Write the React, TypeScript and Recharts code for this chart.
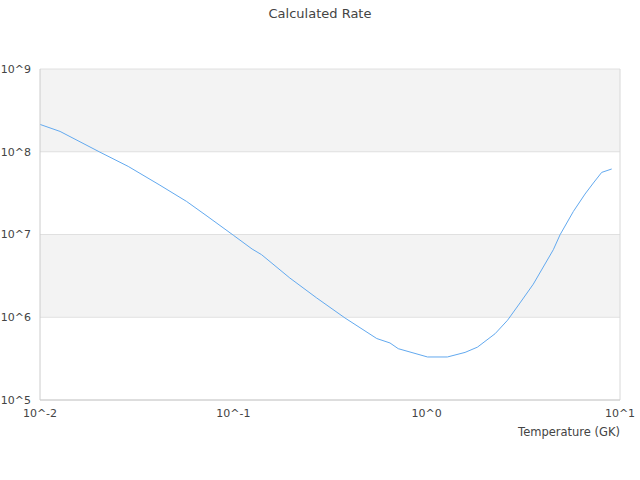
import React from 'react';
import { LineChart, Line, XAxis, YAxis, CartesianGrid, ReferenceLine, Label } from 'recharts';

// temperature in GK and the rate
const temps = [
  0.01, 0.0127, 0.0204, 0.0286, 0.0413, 0.0573, 0.0731, 0.1, 0.125, 0.14, 0.196, 0.27, 0.378,
  0.552, 0.646, 0.713, 1.01, 1.28, 1.58, 1.83, 2.26, 2.62, 3.04, 3.56, 4.52, 4.9, 5.74, 6.59,
  7.28, 8.04, 9.06,
];
const rates = [
  2.14e8, 1.76e8, 9.9e7, 6.65e7, 4.0e7, 2.51e7, 1.67e7, 9.8e6, 6.68e6, 5.7e6, 2.98e6, 1.71e6, 9.8e5,
  5.53e5, 4.89e5, 4.17e5, 3.31e5, 3.31e5, 3.76e5, 4.35e5, 6.33e5, 9.2e5, 1.49e6, 2.51e6, 6.55e6,
  9.95e6, 1.9e7, 3.08e7, 4.19e7, 5.63e7, 6.19e7,
];
const xTicks = [0.01, 0.1, 1, 10];
const yTicks = [1e5, 1e6, 1e7, 1e8, 1e9];

const data = temps.map((t, i) => ({ t, rate: rates[i] }));

const fmt = (v: number) => '10^' + Math.round(Math.log10(v));

const font = "'DejaVu Sans', sans-serif";
const textColor = '#444';

export default function App() {
  return (
    <div style={{ position: 'absolute', left: 0, top: 0, width: 640, height: 480, background: '#fff' }}>
      <svg width={640} height={30} style={{ position: 'absolute', left: 0, top: 0 }}>
        <text x={320} y={17.5} textAnchor="middle" fontFamily={font} fontSize={13} fill={textColor}>
          Calculated Rate
        </text>
      </svg>
      <LineChart width={640} height={480} data={data} margin={{ top: 69, right: 20, left: 0, bottom: 0 }}>
        <CartesianGrid vertical={false} stroke="#e0e0e0" horizontalFill={['#f3f3f3', '#ffffff']} fillOpacity={1} />
        <XAxis
          dataKey="t"
          type="number"
          scale="log"
          domain={[0.01, 10]}
          ticks={xTicks}
          tickFormatter={fmt}
          allowDataOverflow
          height={80}
          tickLine={false}
          tickSize={0}
          tickMargin={9}
          stroke="#ccc"
          tick={{ fill: textColor, fontSize: 11, fontFamily: font }}
        >
          <Label
            content={({ viewBox }: any) => (
              <text
                x={viewBox.x + viewBox.width}
                y={viewBox.y + 35.5}
                textAnchor="end"
                fontFamily={font}
                fontSize={11.5}
                fill={textColor}
              >
                Temperature (GK)
              </text>
            )}
          />
        </XAxis>
        <YAxis
          type="number"
          scale="log"
          domain={[1e5, 1e9]}
          ticks={yTicks}
          tickFormatter={fmt}
          allowDataOverflow
          width={40}
          tickLine={false}
          tickSize={0}
          tickMargin={9}
          stroke="#ccc"
          tick={{ fill: textColor, fontSize: 11, fontFamily: font }}
        />
        <ReferenceLine x={10} stroke="#d8d8d8" />
        <Line
          type="linear"
          dataKey="rate"
          stroke="#62a9ef"
          strokeWidth={1}
          dot={false}
          isAnimationActive={false}
        />
      </LineChart>
    </div>
  );
}
